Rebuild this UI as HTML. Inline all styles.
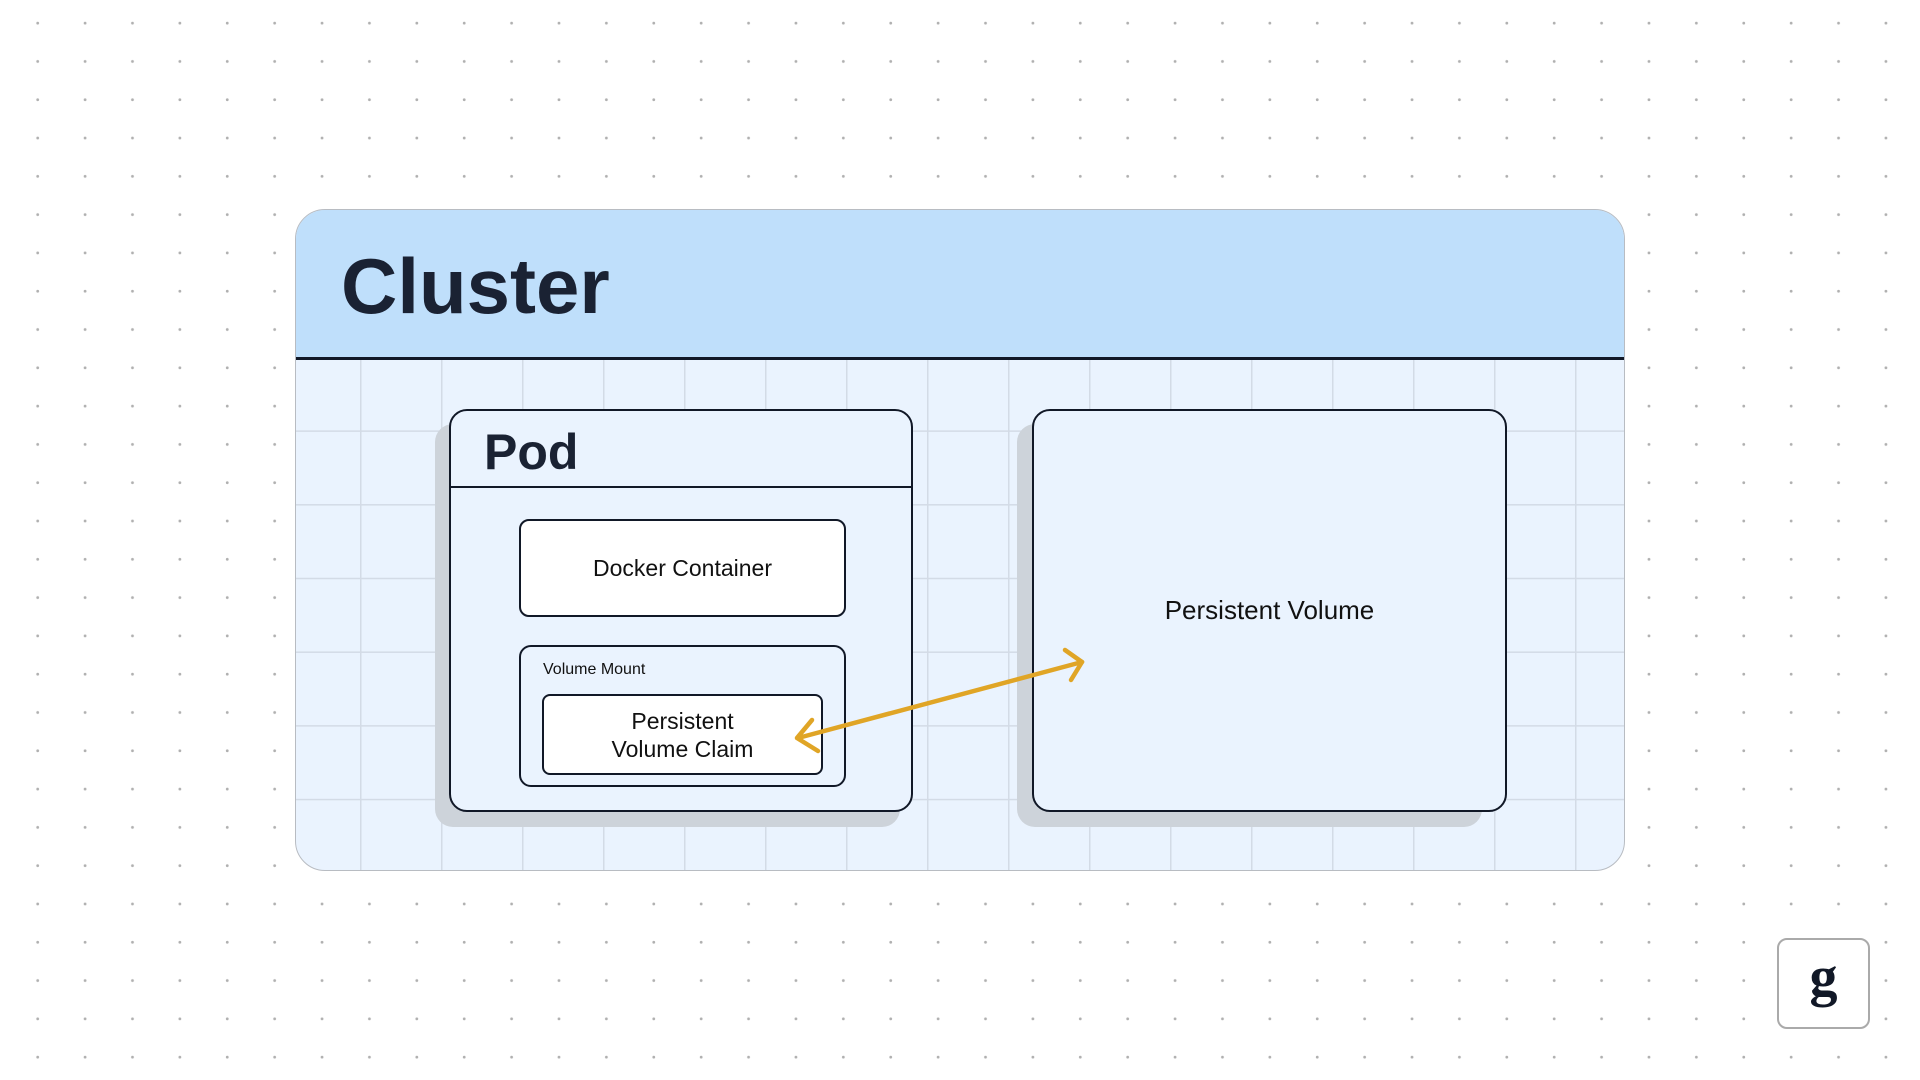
<!DOCTYPE html>
<html><head><meta charset="utf-8"><style>
html,body{margin:0;padding:0;}
body{width:1920px;height:1080px;position:relative;overflow:hidden;background:#fff;font-family:"Liberation Sans",sans-serif;
background-image:radial-gradient(circle,#b0b0b0 1.3px,transparent 1.6px);background-size:47.4px 38.3px;background-position:14px 4px;}
.abs{position:absolute;box-sizing:border-box;}
</style></head><body>
<div class="abs" style="left:295px;top:209px;width:1330px;height:662px;border:1.5px solid #b8bcc2;border-radius:30px;overflow:hidden;background:#eaf3fe;
background-image:linear-gradient(90deg,#d3dbe6 1.5px,transparent 1.5px),linear-gradient(#d3dbe6 1.5px,transparent 1.5px);background-size:81px 73.7px;background-position:64px 73px;">
  <div class="abs" style="left:0;top:0;width:100%;height:150px;background:#bfdffb;border-bottom:3px solid #111827;"></div>
  <div class="abs" style="left:45px;top:26px;font-size:78px;font-weight:bold;color:#1a2233;line-height:100px;">Cluster</div>
</div>
<!-- shadows -->
<div class="abs" style="left:435px;top:424px;width:465px;height:403px;background:#cdd3da;border-radius:18px;"></div>
<div class="abs" style="left:1017px;top:424px;width:465px;height:403px;background:#cdd3da;border-radius:18px;"></div>
<!-- pod -->
<div class="abs" style="left:449px;top:409px;width:464px;height:403px;background:#eaf3fe;border:2px solid #111827;border-radius:18px;overflow:hidden;">
  <div class="abs" style="left:0;top:0;width:100%;height:77px;border-bottom:2px solid #111827;"></div>
  <div class="abs" style="left:33px;top:8px;font-size:50px;font-weight:bold;color:#1a2233;line-height:66px;">Pod</div>
</div>
<div class="abs" style="left:519px;top:519px;width:327px;height:98px;background:#fff;border:2px solid #111827;border-radius:10px;display:flex;align-items:center;justify-content:center;font-size:23px;color:#111;font-weight:500;">Docker Container</div>
<div class="abs" style="left:519px;top:645px;width:327px;height:142px;background:#eaf3fe;border:2px solid #111827;border-radius:12px;">
  <div class="abs" style="left:22px;top:14px;font-size:16px;color:#111;">Volume Mount</div>
</div>
<div class="abs" style="left:542px;top:694px;width:281px;height:81px;background:#fff;border:2px solid #111827;border-radius:8px;display:flex;align-items:center;justify-content:center;text-align:center;font-size:23px;line-height:28px;color:#111;">Persistent<br>Volume Claim</div>
<!-- PV -->
<div class="abs" style="left:1032px;top:409px;width:475px;height:403px;background:#eaf3fe;border:2px solid #111827;border-radius:18px;display:flex;align-items:center;justify-content:center;font-size:26px;color:#111;">Persistent Volume</div>
<svg class="abs" style="left:0;top:0" width="1920" height="1080">
<g stroke="#e0a526" stroke-width="4.5" fill="none" stroke-linecap="round" stroke-linejoin="round">
<line x1="798" y1="738" x2="1082" y2="662"/>
<polyline points="812,720 797,738 818,751"/>
<polyline points="1065,650 1082,662 1071,680"/>
</g></svg>
<div class="abs" style="left:1777px;top:938px;width:93px;height:91px;background:#fff;border:2px solid #aaa;border-radius:10px;display:flex;align-items:center;justify-content:center;font-family:'Liberation Serif',serif;font-weight:bold;font-size:56px;color:#111827;padding-bottom:14px;">g</div>
</body></html>
